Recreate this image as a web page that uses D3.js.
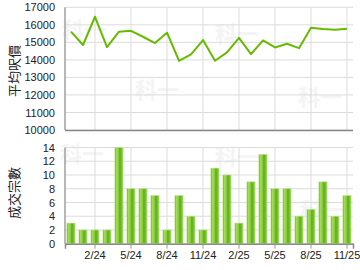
<!DOCTYPE html>
<html>
<head>
<meta charset="utf-8">
<script src="https://cdn.jsdelivr.net/npm/d3@7"></script>
<style>
  body { margin: 0; background: #fff; }
  text { font-family: "Liberation Sans", Arial, sans-serif; fill: #222; }
  .tick text { font-size: 11px; }
  .grid line { stroke: #dcdcdc; }
  .wm { font-family: "Noto Sans CJK TC", sans-serif; font-size: 22px; font-weight: bold; fill: #f4f4f4; }
</style>
</head>
<body>
<div id="viz_container"></div>
<script>
// data
const months = ["12/23","1/24","2/24","3/24","4/24","5/24","6/24","7/24","8/24","9/24","10/24","11/24",
                "12/24","1/25","2/25","3/25","4/25","5/25","6/25","7/25","8/25","9/25","10/25","11/25"];
const avgPrice = [15610, 14850, 16460, 14730, 15610, 15660, 15320, 14960, 15550, 13950, 14310, 15130,
                  13950, 14430, 15260, 14330, 15110, 14710, 14920, 14670, 15830, 15760, 15720, 15780];
const deals = [3, 2, 2, 2, 14, 8, 8, 7, 2, 7, 4, 2, 11, 10, 3, 9, 13, 8, 8, 4, 5, 9, 4, 7];
const tickMonths = ["2/24","5/24","8/24","11/24","2/25","5/25","8/25","11/25"];
const priceTicks = [10000, 11000, 12000, 13000, 14000, 15000, 16000, 17000];
const dealTicks = [0, 2, 4, 6, 8, 10, 12, 14];

const W = 360, H = 270;
const left = 65, right = 353;

const svg = d3.select("#viz_container")
  .append("svg")
    .attr("width", W)
    .attr("height", H);

// gradient for bars
const defs = svg.append("defs");
const grad = defs.append("linearGradient").attr("id", "barGrad")
  .attr("x1", "0%").attr("x2", "100%").attr("y1", "0%").attr("y2", "0%");
[["0%", "#5aa30f"], ["15%", "#a6dc5c"], ["40%", "#8fd046"], ["60%", "#5eae12"], ["85%", "#7cc437"], ["100%", "#9ad65a"]]
  .forEach(s => grad.append("stop").attr("offset", s[0]).attr("stop-color", s[1]));

const xScale = d3.scaleBand()
  .domain(months)
  .range([left, right])
  .paddingInner(0.32)
  .paddingOuter(0.16);
const xMid = m => xScale(m) + xScale.bandwidth() / 2;

// watermarks
const wms = [[62, 38], [135, 98], [215, 42], [298, 105], [60, 162], [118, 220], [215, 165], [300, 218]];
svg.selectAll(".wm")
  .data(wms)
  .join("text")
    .attr("class", "wm")
    .attr("x", d => d[0])
    .attr("y", d => d[1])
    .text("科一");

// ---------- top chart: average price ----------
const yTop = d3.scaleLinear().domain([10000, 17000]).range([130, 7.3]);

svg.append("g")
    .attr("class", "grid")
  .selectAll("line")
  .data(priceTicks)
  .join("line")
    .attr("x1", left).attr("x2", right)
    .attr("y1", d => yTop(d)).attr("y2", d => yTop(d));

svg.append("g")
    .attr("class", "grid")
  .selectAll("line")
  .data(tickMonths)
  .join("line")
    .attr("x1", d => xMid(d)).attr("x2", d => xMid(d))
    .attr("y1", yTop(17000)).attr("y2", yTop(10000));

svg.append("g")
    .attr("transform", `translate(${left - 6}, 0)`)
  .call(d3.axisLeft(yTop).tickValues(priceTicks).tickSize(0).tickPadding(4).tickFormat(d3.format("d")))
  .call(g => g.select(".domain").remove());

svg.append("line")
  .attr("x1", left).attr("x2", left).attr("y1", yTop(17000)).attr("y2", yTop(10000))
  .attr("stroke", "#a0a0a0").attr("stroke-width", 1.5);
svg.append("line")
  .attr("x1", left).attr("x2", right).attr("y1", yTop(10000) + 0.5).attr("y2", yTop(10000) + 0.5)
  .attr("stroke", "#888").attr("stroke-width", 1.5);

svg.append("path")
  .datum(avgPrice)
  .attr("fill", "none")
  .attr("stroke", "#66bb00")
  .attr("stroke-width", 2)
  .attr("stroke-linejoin", "round")
  .attr("d", d3.line()
    .x((d, i) => xMid(months[i]))
    .y(d => yTop(d)));

svg.append("text")
  .attr("transform", "translate(19, 71) rotate(-90)")
  .attr("text-anchor", "middle")
  .style("font-family", "'Noto Sans CJK TC', sans-serif")
  .style("font-size", "13px")
  .text("平均呎價");

// ---------- bottom chart: number of deals ----------
const yBot = d3.scaleLinear().domain([0, 14]).range([243.7, 147.5]);

svg.append("g")
    .attr("class", "grid")
  .selectAll("line")
  .data(dealTicks)
  .join("line")
    .attr("x1", left).attr("x2", right)
    .attr("y1", d => yBot(d)).attr("y2", d => yBot(d));

svg.append("g")
    .attr("class", "grid")
  .selectAll("line")
  .data(tickMonths)
  .join("line")
    .attr("x1", d => xMid(d)).attr("x2", d => xMid(d))
    .attr("y1", yBot(14)).attr("y2", yBot(0));

svg.append("g")
    .attr("transform", `translate(${left - 6}, 0)`)
  .call(d3.axisLeft(yBot).tickValues(dealTicks).tickSize(0).tickPadding(4))
  .call(g => g.select(".domain").remove());

svg.selectAll(".bar")
  .data(deals)
  .join("rect")
    .attr("class", "bar")
    .attr("x", (d, i) => xScale(months[i]))
    .attr("y", d => yBot(d))
    .attr("width", xScale.bandwidth())
    .attr("height", d => yBot(0) - yBot(d))
    .attr("fill", "url(#barGrad)")
    .attr("stroke", "#b8e58a")
    .attr("stroke-width", 0.6);

svg.append("line")
  .attr("x1", left).attr("x2", left).attr("y1", yBot(14)).attr("y2", yBot(0))
  .attr("stroke", "#a0a0a0").attr("stroke-width", 1.5);

svg.append("g")
    .attr("transform", `translate(0, ${yBot(0)})`)
  .call(d3.axisBottom(xScale).tickValues(tickMonths).tickSize(5).tickPadding(3))
  .call(g => g.select(".domain").attr("stroke", "#888").attr("stroke-width", 1.5))
  .call(g => g.selectAll(".tick line").attr("stroke", "#999"));

svg.append("text")
  .attr("transform", "translate(19, 193) rotate(-90)")
  .attr("text-anchor", "middle")
  .style("font-family", "'Noto Sans CJK TC', sans-serif")
  .style("font-size", "13px")
  .text("成交宗數");
</script>
</body>
</html>
